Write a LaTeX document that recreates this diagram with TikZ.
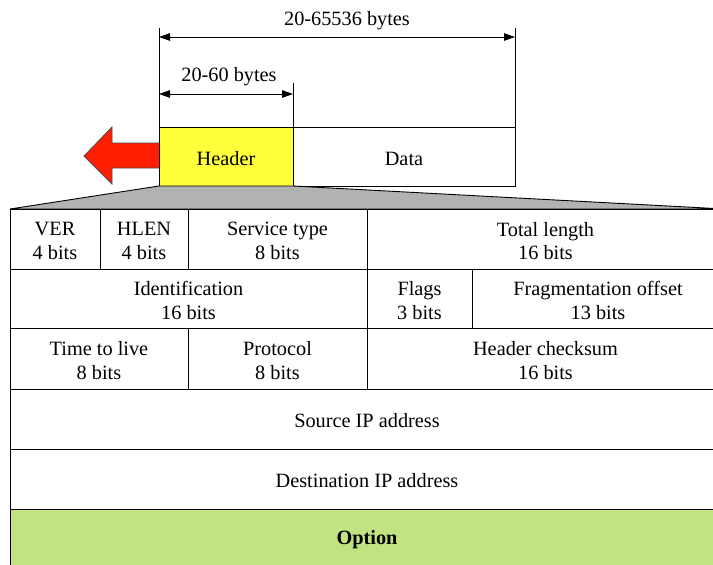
\documentclass[tikz,border=0pt]{standalone}
\usepackage{fontspec}
\setmainfont{Liberation Serif}
\usetikzlibrary{arrows.meta}
\definecolor{hdryellow}{RGB}{255,255,60}
\definecolor{arrred}{RGB}{255,30,0}
\definecolor{trapgray}{RGB}{178,178,178}
\definecolor{optgreen}{RGB}{193,227,130}
\begin{document}
\begin{tikzpicture}[x=1pt,y=-1pt,
  every node/.style={font=\fontsize{20.3}{23.5}\selectfont, align=center, inner sep=0pt},
  cellbox/.style={draw=black, line width=0.9pt, rectangle, anchor=north west, inner sep=0pt, outer sep=0pt},
  dimline/.style={line width=0.9pt, {Triangle[length=11pt,width=7.5pt]}-{Triangle[length=11pt,width=7.5pt]}},
  extline/.style={line width=0.9pt},
  txt/.style={yshift=-2pt}
]
\clip (0,0) rectangle (713,565);
\fill[white] (0,0) rectangle (713,565);

% top dimension lines
\coordinate (a1) at (159,37);
\coordinate (a2) at (515,37);
\coordinate (b1) at (159,94);
\coordinate (b2) at (293,94);
\coordinate (e1) at (159,28);
\coordinate (e2) at (515,28);
\coordinate (e3) at (293,83);

% packet boxes
\node[cellbox, fill=hdryellow, minimum width=134pt, minimum height=59pt] (hdr) at (159,127) {};
\node[cellbox, minimum width=222pt, minimum height=59pt] (data) at (293,127) {};
\node[txt] (hdrt) at (hdr.center) {Header};
\node[txt] (datat) at (data.center) {Data};

\draw[extline] (e1) -- (hdr.north west);
\draw[extline] (e2) -- (data.north east);
\draw[extline] (e3) -- (hdr.north east);
\draw[dimline] (a1) -- (a2);
\draw[dimline] (b1) -- (b2);
\node (lblall) at (347,21) {20-65536 bytes};
\node (lblhdr) at (229,77) {20-60 bytes};

% red arrow
\draw[fill=arrred, draw=black!70, line width=0.8pt, line join=miter]
  (hdr.west |- 0,143) -- (112,143) -- (112,127) -- (84,156) -- (112,184) -- (112,168) -- (hdr.west |- 0,168);

% gray trapezoid
\draw[fill=trapgray, draw=black, line width=0.9pt]
  (hdr.south west) -- (hdr.south east) -- (724,209) -- (10,209) -- cycle;

% table
\newcommand{\ipcell}[6]{%
  \node[cellbox, #6, minimum width={#4-#2}, minimum height={#5-#3}] (#1) at (#2,#3) {};
}
\ipcell{ver}{10}{209}{100}{269}{}
\ipcell{hlen}{100}{209}{188}{269}{}
\ipcell{serv}{188}{209}{367}{269}{}
\ipcell{tlen}{367}{209}{724}{269}{}
\ipcell{ident}{10}{269}{367}{328}{}
\ipcell{flags}{367}{269}{472}{328}{}
\ipcell{frag}{472}{269}{724}{328}{}
\ipcell{ttl}{10}{328}{188}{389}{}
\ipcell{proto}{188}{328}{367}{389}{}
\ipcell{cksum}{367}{328}{724}{389}{}
\ipcell{src}{10}{389}{724}{449}{}
\ipcell{dst}{10}{449}{724}{509}{}
\ipcell{opt}{10}{509}{724}{575}{fill=optgreen}

\node[txt] at (ver.center) (verT) {VER\\4 bits};
\node[txt] at (hlen.center) (hlenT) {HLEN\\4 bits};
\node[txt] at (serv.center) (servT) {Service type\\8 bits};
\node[txt] at (tlen.center) (tlenT) {Total length\\16 bits};
\node[txt] at (ident.center) (identT) {Identification\\16 bits};
\node[txt] at (flags.center) (flagsT) {Flags\\3 bits};
\node[txt] at (frag.center) (fragT) {Fragmentation offset\\13 bits};
\node[txt] at (ttl.center) (ttlT) {Time to live\\8 bits};
\node[txt] at (proto.center) (protoT) {Protocol\\8 bits};
\node[txt] at (cksum.center) (cksumT) {Header checksum\\16 bits};
\node[txt] at (src.center) (srcT) {Source IP address};
\node[txt] at (dst.center) (dstT) {Destination IP address};
\node[txt] at (367,538) (optT) {\textbf{Option}};
\end{tikzpicture}
\end{document}
